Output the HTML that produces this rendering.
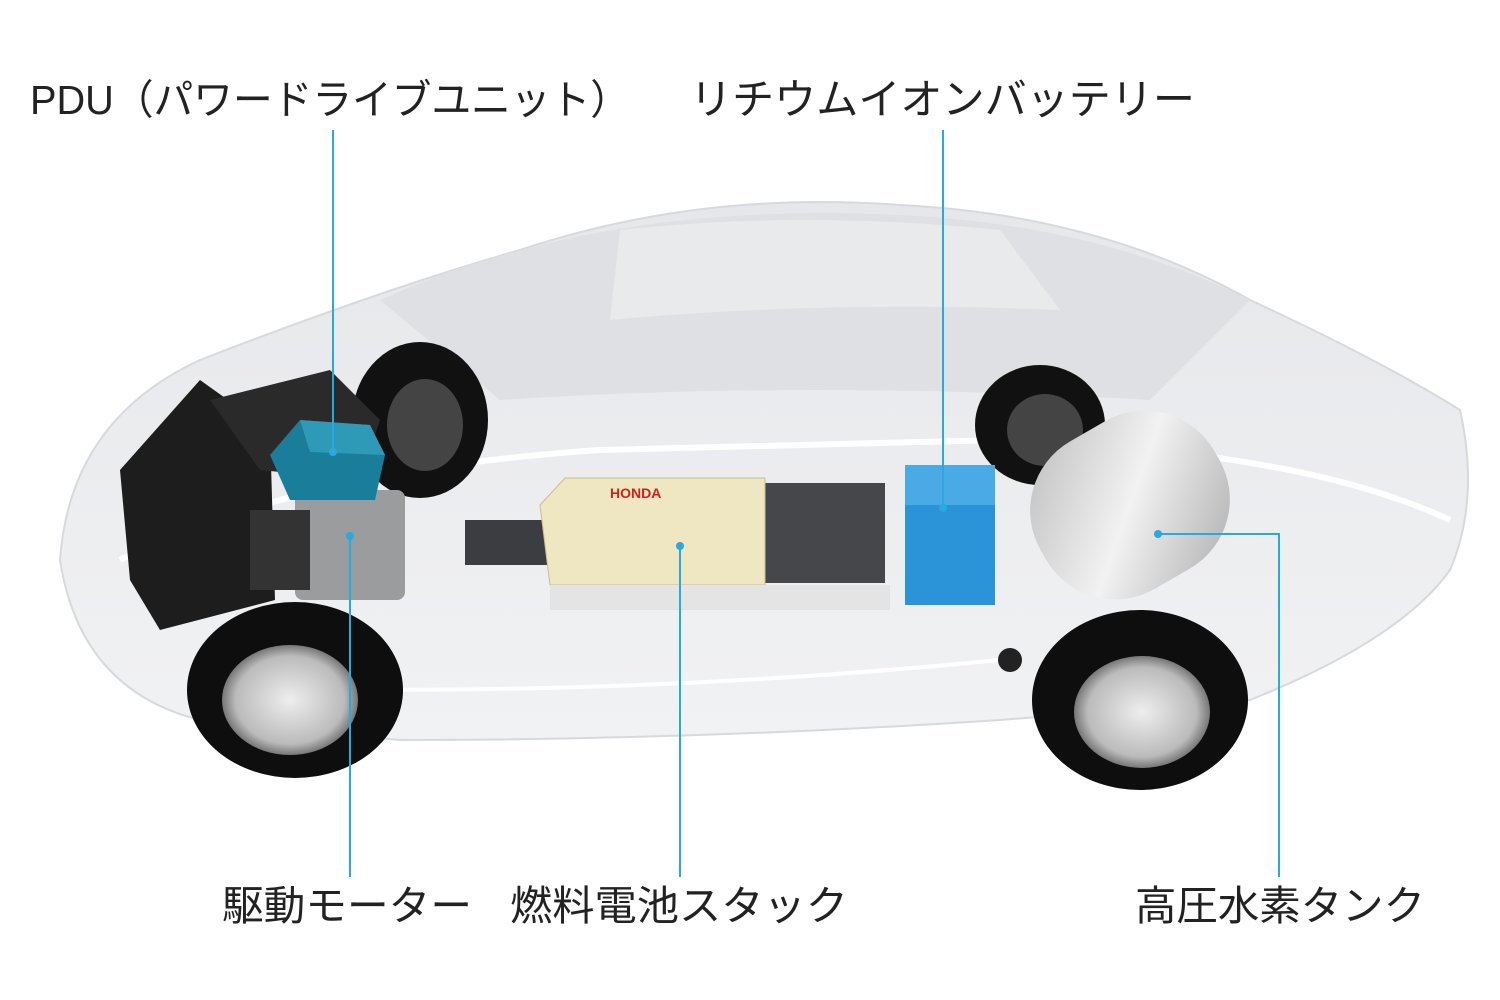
<!DOCTYPE html>
<html><head><meta charset="utf-8"><style>
html,body{margin:0;padding:0;background:#fff;}
svg{display:block;}
text{font-family:"Liberation Sans","Noto Sans CJK JP",sans-serif;fill:#222;}
</style></head><body>
<svg width="1500" height="1000" viewBox="0 0 1500 1000" xmlns="http://www.w3.org/2000/svg">
<defs>
<radialGradient id="rim" cx="50%" cy="50%" r="50%"><stop offset="0" stop-color="#eee"/><stop offset="0.8" stop-color="#bbb"/><stop offset="1" stop-color="#777"/></radialGradient>
<linearGradient id="tank" x1="0" y1="0" x2="1" y2="1"><stop offset="0" stop-color="#bbb"/><stop offset="0.5" stop-color="#f2f2f2"/><stop offset="1" stop-color="#aaa"/></linearGradient>
<linearGradient id="body" x1="0" y1="0" x2="0" y2="1"><stop offset="0" stop-color="#e6e7ea"/><stop offset="1" stop-color="#f1f2f4"/></linearGradient>
</defs>
<path d="M60 560 Q70 420 200 360 Q380 290 520 250 Q700 190 900 205 Q1100 215 1250 300 Q1380 360 1460 410 Q1480 500 1450 570 Q1400 640 1250 700 L1000 720 Q700 740 400 740 L200 720 Q80 690 60 560 Z" fill="url(#body)" stroke="#d8d9dc" stroke-width="2"/>
<path d="M380 300 Q600 200 900 215 Q1100 225 1250 300 L1150 400 Q800 380 500 400 Z" fill="#dfe0e3"/>
<path d="M620 230 Q800 210 1000 230 L1060 310 Q820 300 610 320 Z" fill="#e9eaec"/>
<path d="M120 560 Q300 470 600 450 L1000 440 Q1300 450 1450 520" stroke="#fff" stroke-width="6" fill="none"/>
<path d="M380 690 Q700 690 1000 660" stroke="#fff" stroke-width="4" fill="none"/>
<ellipse cx="420" cy="420" rx="68" ry="78" fill="#111"/><ellipse cx="425" cy="425" rx="38" ry="46" fill="#444"/>
<ellipse cx="1040" cy="425" rx="65" ry="60" fill="#111"/><ellipse cx="1045" cy="430" rx="38" ry="36" fill="#444"/>
<path d="M120 470 L200 380 L270 430 L275 600 L160 630 L130 580 Z" fill="#1d1d1d"/>
<path d="M210 400 L330 370 L380 420 L360 480 L260 470 Z" fill="#2a2a2a"/>
<rect x="295" y="490" width="110" height="110" rx="8" fill="#9a9c9e"/>
<rect x="250" y="510" width="60" height="80" fill="#333"/>
<path d="M270 455 L300 420 L370 425 L385 455 L375 500 L290 500 Z" fill="#1a7d99"/>
<path d="M300 420 L370 425 L385 455 L310 452 Z" fill="#2f9ab8"/>
<ellipse cx="295" cy="690" rx="108" ry="88" fill="#0e0e0e"/>
<ellipse cx="290" cy="700" rx="68" ry="55" fill="url(#rim)"/>
<ellipse cx="1140" cy="700" rx="108" ry="90" fill="#0e0e0e"/>
<ellipse cx="1142" cy="712" rx="68" ry="56" fill="url(#rim)"/>
<rect x="465" y="520" width="130" height="45" fill="#3c3d40"/>
<rect x="740" y="483" width="145" height="100" fill="#46474a"/>
<path d="M540 505 L565 478 L765 478 L765 585 L550 585 Z" fill="#efe6c2" stroke="#c9bd92"/>
<rect x="550" y="585" width="340" height="25" fill="#e4e4e4"/>
<text x="610" y="498" font-size="14" font-weight="bold" style="fill:#c22">HONDA</text>
<rect x="905" y="465" width="90" height="140" fill="#2b93d8"/>
<rect x="905" y="465" width="90" height="40" fill="#4aaae6"/>
<g transform="rotate(-30 1130 505)"><rect x="1030" y="420" width="200" height="170" rx="80" fill="url(#tank)"/></g>
<circle cx="1010" cy="660" r="12" fill="#222"/>
<g stroke="#2aa8e0" stroke-width="2" fill="none">
<line x1="333" y1="130" x2="333" y2="452"/>
<line x1="943" y1="130" x2="943" y2="508"/>
<line x1="350" y1="536" x2="350" y2="877"/>
<line x1="680" y1="546" x2="680" y2="877"/>
<polyline points="1158,534 1279,534 1279,877"/>
</g>
<g fill="#2aa8e0"><circle cx="333" cy="452" r="4"/><circle cx="943" cy="508" r="4"/><circle cx="350" cy="536" r="4"/><circle cx="680" cy="546" r="4"/><circle cx="1158" cy="534" r="4"/></g>
<text x="30" y="114" font-size="41" textLength="600" lengthAdjust="spacingAndGlyphs">PDU（パワードライブユニット）</text>
<text x="690" y="114" font-size="42" textLength="505" lengthAdjust="spacingAndGlyphs">リチウムイオンバッテリー</text>
<text x="222" y="920" font-size="41" textLength="250" lengthAdjust="spacingAndGlyphs">駆動モーター</text>
<text x="510" y="920" font-size="41" textLength="338" lengthAdjust="spacingAndGlyphs">燃料電池スタック</text>
<text x="1135" y="920" font-size="41" textLength="290" lengthAdjust="spacingAndGlyphs">高圧水素タンク</text>
</svg>
</body></html>
